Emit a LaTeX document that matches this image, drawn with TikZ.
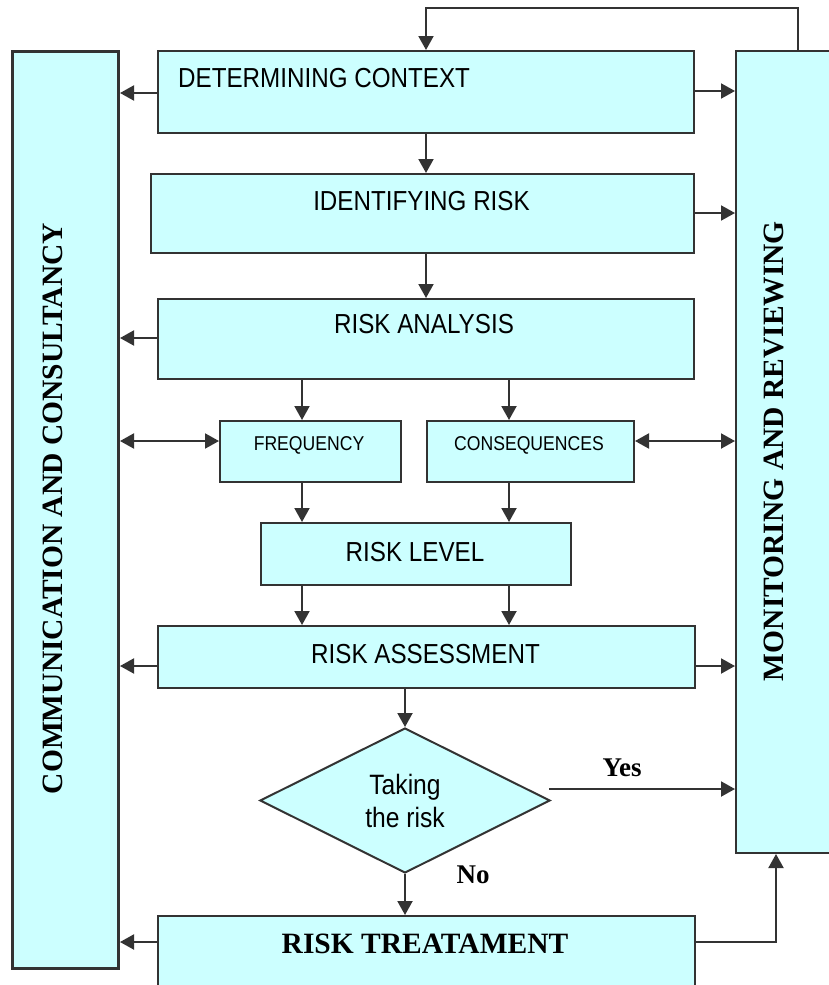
\documentclass[tikz,border=0pt]{standalone}
\usepackage{fontspec}
\setmainfont{Liberation Serif}
\newfontfamily\nar[FakeStretch=0.88]{Liberation Sans}
\usetikzlibrary{shapes.geometric,arrows.meta}
\definecolor{boxfill}{HTML}{CCFFFF}
\definecolor{ln}{HTML}{333333}
\begin{document}
\begin{tikzpicture}[x=1pt,y=-1pt,
  box/.style={draw=ln,fill=boxfill,line width=2pt,inner sep=0pt,anchor=north west},
  arr/.style={draw=ln,line width=2pt,-{Triangle[length=14pt,width=15pt]}},
  darr/.style={draw=ln,line width=2pt,{Triangle[length=14pt,width=15pt]}-{Triangle[length=14pt,width=15pt]}},
  big/.style={inner sep=0pt,font=\nar\fontsize{27.5}{33}\selectfont},
  small/.style={inner sep=0pt,font=\nar\fontsize{20}{24}\selectfont},
  serifb/.style={inner sep=0pt,font=\bfseries\fontsize{29.5}{34}\selectfont},
  lbl/.style={inner sep=0pt,font=\bfseries\fontsize{27}{32}\selectfont}]
\useasboundingbox (0,0) rectangle (828,985);
% boxes
\node[box,line width=3pt,minimum width=106pt,minimum height=917pt] (cc) at (11,50) {};
\node[box,minimum width=100pt,minimum height=802pt] (mr) at (735,50) {};
\node[box,minimum width=536pt,minimum height=82pt] (ctx) at (157,50) {};
\node[box,minimum width=543pt,minimum height=79pt] (idf) at (150,173) {};
\node[box,minimum width=536pt,minimum height=80pt] (ra) at (157,298) {};
\node[box,minimum width=181pt,minimum height=61pt] (freq) at (219,420) {};
\node[box,minimum width=207pt,minimum height=61pt] (cons) at (426,420) {};
\node[box,minimum width=310pt,minimum height=62pt] (rl) at (260,522) {};
\node[box,minimum width=537pt,minimum height=62pt] (rass) at (157,625) {};
\node[box,minimum width=537pt,minimum height=90pt] (treat) at (157,915) {};
\node[diamond,draw=ln,fill=boxfill,line width=2pt,inner sep=0pt,
      minimum width=290pt,minimum height=145pt,align=center,
      font=\nar\fontsize{28}{33}\selectfont] (dia) at (405,800.5) {Taking\\the risk};
% texts
\node[big,anchor=base west] (tctx) at (178,87.5) {DETERMINING CONTEXT};
\node[big,anchor=base] (tidf) at (421.5,210.5) {IDENTIFYING RISK};
\node[big,anchor=base] (tra) at (424,333) {RISK ANALYSIS};
\node[small,anchor=base] (tfreq) at (309,450) {FREQUENCY};
\node[small,anchor=base] (tcons) at (529,450) {CONSEQUENCES};
\node[big,anchor=base] (trl) at (415,561) {RISK LEVEL};
\node[big,anchor=base] (trass) at (425.5,663) {RISK ASSESSMENT};
\node[serifb,anchor=base] (ttreat) at (425,953) {RISK TREATAMENT};
\node[serifb,rotate=90,anchor=base] (tcc) at (62,508.5) {COMMUNICATION AND CONSULTANCY};
\node[serifb,rotate=90,anchor=base] (tmr) at (783,451) {MONITORING AND REVIEWING};
\node[lbl,anchor=base] (tyes) at (622,776.5) {Yes};
\node[lbl,anchor=base] (tno) at (473,883) {No};
% connectors
\draw[arr] (mr.north -| 798,0) |- (ctx.north |- 0,8) -- (ctx.north);
\draw[arr] (ctx.west |- 0,93) -- (cc.east |- 0,93);
\draw[arr] (ctx.east |- 0,91) -- (mr.west |- 0,91);
\draw[arr] (ctx.south) -- (ctx.south |- idf.north);
\draw[arr] (idf.east |- 0,213) -- (mr.west |- 0,213);
\draw[arr] (idf.south -| ra.north) -- (ra.north);
\draw[arr] (ra.west |- 0,338) -- (cc.east |- 0,338);
\draw[arr] (ra.south -| 302,0) -- (freq.north -| 302,0);
\draw[arr] (ra.south -| 509,0) -- (cons.north -| 509,0);
\draw[darr] (cc.east |- 0,441) -- (freq.west |- 0,441);
\draw[darr] (cons.east |- 0,441) -- (mr.west |- 0,441);
\draw[arr] (freq.south -| 302,0) -- (rl.north -| 302,0);
\draw[arr] (cons.south -| 509,0) -- (rl.north -| 509,0);
\draw[arr] (rl.south -| 302,0) -- (rass.north -| 302,0);
\draw[arr] (rl.south -| 509,0) -- (rass.north -| 509,0);
\draw[arr] (rass.west |- 0,666) -- (cc.east |- 0,666);
\draw[arr] (rass.east |- 0,666) -- (mr.west |- 0,666);
\draw[arr] (rass.south -| dia.north) -- (dia.north);
\coordinate (ys) at (549,789);
\draw[arr] (ys) -- (mr.west |- ys);
\draw[arr] (dia.south) -- (treat.north -| dia.south);
\draw[arr] (treat.west |- 0,942) -- (cc.east |- 0,942);
\draw[arr] (treat.east |- 0,942) -| (mr.south -| 776,0);
\end{tikzpicture}
\end{document}
